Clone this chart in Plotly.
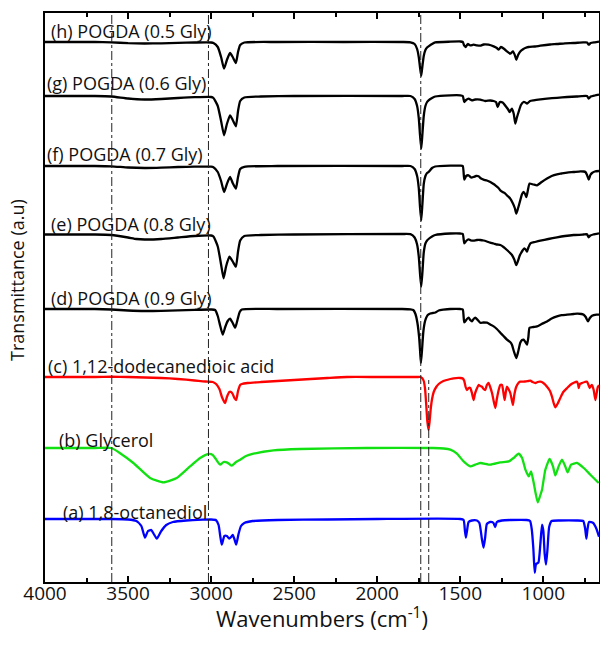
import plotly.graph_objects as go

# ---------------- data ----------------
# wavenumber (cm-1), relative transmittance (a.u., 0 = local baseline)
spec_h = [(4000,0),(3700,0),(3600,-0.3),(3500,-1.2),(3400,-1.5),(3300,-1.3),(3200,-0.8),(3100,-0.5),(3000,-0.5),
          (2986,-1),(2960,-5),(2940,-15),(2922,-26.7),(2905,-18),(2886,-11),(2870,-15),(2851,-21),(2838,-10),(2825,-3),
          (2800,-0.5),(2600,0),(2200,0),(1850,0),(1800,-0.3),(1775,-2),(1760,-7),(1750,-15),(1742,-26),(1735,-33.7),
          (1728,-24),(1720,-14),(1710,-8),(1700,-5.5),(1691,-4.4),(1670,-2),(1651,-0.4),(1560,0.3),(1500,0.5),(1485,0),
          (1476,-3.7),(1468,-5),(1455,-2),(1440,-3.4),(1420,-2.7),(1400,-3.4),(1380,-3.7),(1360,-2.5),(1330,-2.7),
          (1299,-4.4),(1280,-6),(1269,-7.7),(1255,-5),(1235,-7),(1219,-9.4),(1199,-11.7),(1183,-9.4),(1172,-13),
          (1163,-17.7),(1152,-13),(1139,-9.4),(1120,-7),(1109,-6),(1089,-5),(1050,-4.5),(1018,-3.7),(960,-2.5),
          (918,-2),(870,-1.3),(817,-1),(760,-0.4),(737,-0.4),(727,-2.7),(715,-1),(690,-0.3),(665,0.3)]

spec_g = [(4000,0),(3700,0),(3600,-0.5),(3500,-2.5),(3400,-3.5),(3300,-3),(3200,-2),(3100,-1.2),(3000,-1),
          (2986,-2),(2960,-10),(2940,-25),(2922,-39.3),(2905,-28),(2886,-19.3),(2870,-24),(2851,-30.3),(2838,-15),
          (2825,-5),(2800,-1.5),(2700,-0.5),(2500,0),(1850,0),(1800,0),(1775,-3),(1760,-10),(1750,-22),(1742,-40),
          (1735,-52.6),(1728,-38),(1720,-20),(1710,-10),(1700,-6),(1691,-4.3),(1670,-2),(1651,-0.5),(1560,0.7),
          (1500,0.7),(1485,0),(1476,-6),(1465,-4),(1450,-2.6),(1430,-4.3),(1410,-3.5),(1380,-3.6),(1350,-5),
          (1320,-4.5),(1299,-5),(1285,-6),(1275,-11),(1262,-6),(1245,-6.5),(1223,-11),(1210,-14),(1203,-16),
          (1189,-12.6),(1178,-18),(1169,-27.6),(1160,-22),(1149,-16),(1135,-9),(1119,-6),(1108,-6.5),(1098,-7.6),
          (1080,-5),(1058,-4.3),(1018,-3.4),(978,-2.6),(918,-1.8),(857,-1),(800,-0.5),(737,0),(727,-2.6),
          (715,-0.6),(690,0.5),(665,1.4)]

spec_f = [(4000,0),(3700,0),(3600,-0.3),(3500,-1.5),(3400,-2),(3300,-1.7),(3200,-1),(3100,-0.7),(3000,-0.7),
          (2986,-1.2),(2960,-6),(2940,-15),(2922,-26),(2905,-18),(2886,-11),(2870,-17),(2851,-22.6),(2838,-11),
          (2825,-3),(2800,-0.8),(2600,0),(1850,0),(1800,0),(1775,-3),(1760,-10),(1750,-22),(1742,-42),(1735,-54.3),
          (1728,-38),(1720,-18),(1710,-10),(1700,-7),(1691,-6),(1670,-2),(1651,-0.5),(1560,0.3),(1500,0.3),(1485,0),
          (1476,-13.6),(1465,-10),(1450,-9.3),(1435,-11.5),(1420,-11),(1405,-10),(1390,-10.3),(1375,-12.5),
          (1360,-13.6),(1340,-14.5),(1319,-16),(1300,-18),(1289,-19.3),(1270,-22),(1259,-24.3),(1245,-26),
          (1229,-27.6),(1215,-30),(1199,-32.6),(1183,-37.6),(1172,-42),(1163,-47.6),(1152,-42),(1139,-34.3),
          (1128,-28),(1119,-26),(1110,-28),(1102,-31),(1094,-25),(1083,-17.6),(1060,-18.5),(1038,-19.3),
          (1010,-16),(978,-12.6),(950,-10),(918,-8.3),(890,-7.5),(857,-6.6),(817,-6),(777,-5.3),(757,-5.5),
          (747,-6),(737,-9),(727,-13.6),(717,-9),(707,-7),(690,-5.5),(665,-5)]

spec_e = [(4000,0),(3700,0),(3600,-0.5),(3500,-3),(3450,-4.5),(3400,-5),(3300,-4.5),(3200,-3),(3100,-1.5),
          (3000,-1),(2986,-2),(2960,-12),(2940,-30),(2925,-43.8),(2910,-32),(2890,-22.2),(2870,-27),(2851,-32.2),
          (2838,-17),(2825,-6),(2800,-1.5),(2700,-0.5),(2500,0),(1850,0.5),(1800,0.3),(1775,-3),(1760,-10),
          (1750,-22),(1742,-40),(1735,-52.2),(1728,-38),(1720,-18),(1710,-9),(1700,-6),(1691,-4.5),(1670,-2),
          (1651,-0.5),(1560,1),(1500,1),(1485,0.5),(1476,-8.8),(1465,-6.5),(1450,-4.8),(1435,-6),(1420,-6.2),
          (1400,-5.5),(1380,-5.5),(1360,-6),(1340,-7),(1320,-8.2),(1300,-9),(1280,-10),(1259,-10.5),(1240,-12.5),
          (1219,-15.5),(1200,-18.5),(1189,-20.5),(1175,-25),(1163,-30.5),(1152,-26),(1142,-21),(1135,-18.8),
          (1125,-16),(1115,-13.8),(1106,-15),(1098,-17.2),(1090,-13),(1078,-8.8),(1050,-7.5),(1018,-6.2),
          (970,-4.5),(918,-2.8),(870,-1.5),(817,-0.5),(760,0),(737,0.2),(727,-2.8),(717,-1),(700,0),(665,1.2)]

spec_d = [(4000,0),(3700,0),(3600,-0.5),(3500,-1.5),(3400,-2),(3300,-1.8),(3200,-1.3),(3100,-0.8),(3000,-0.5),
          (2976,-1),(2960,-7),(2945,-17),(2930,-25.7),(2915,-18),(2900,-12),(2886,-9.7),(2870,-14),(2855,-18.7),
          (2840,-10),(2828,-3),(2815,-0.5),(2600,0),(1850,0),(1800,-0.3),(1783,-1),(1770,-5),(1758,-14),
          (1748,-28),(1742,-42),(1737,-54),(1730,-40),(1722,-22),(1712,-12),(1700,-7),(1693,-5.7),(1680,-4.5),
          (1665,-4),(1650,-3.5),(1630,-1.5),(1602,-0.7),(1560,0),(1500,0),(1485,-0.5),(1476,-13.4),(1460,-10),
          (1450,-8.7),(1440,-11),(1430,-12.4),(1420,-10),(1410,-8.7),(1395,-11),(1380,-13.7),(1360,-13.5),
          (1339,-13.7),(1320,-15.5),(1299,-17.4),(1280,-20),(1259,-23.7),(1240,-27),(1219,-30.7),(1200,-33),
          (1189,-35.7),(1178,-42),(1163,-49),(1152,-43),(1139,-33.7),(1128,-31),(1119,-30.7),(1108,-33),
          (1098,-35.7),(1090,-28),(1083,-18.7),(1060,-18),(1038,-17.4),(1010,-15),(978,-12.4),(950,-9.5),
          (918,-7.4),(890,-6.2),(857,-5.7),(817,-5),(797,-4.7),(770,-5),(757,-5.7),(745,-8),(731,-12.4),
          (720,-9),(707,-6.7),(680,-5.7),(665,-5.7)]

spec_c = [(4000,0),(3800,0),(3700,0),(3600,0.3),(3500,0),(3400,-0.5),(3300,-1),(3200,-2),(3100,-3.5),(3050,-4.3),
          (3018,-4.7),(2990,-5),(2970,-7),(2950,-12),(2935,-20),(2916,-26),(2905,-20),(2890,-15),(2880,-15),
          (2870,-17),(2860,-21),(2849,-23),(2838,-14),(2825,-8),(2815,-7),(2780,-6),(2700,-5),(2600,-4),(2500,-3),
          (2400,-2),(2300,-1),(2183,0),(2000,0),(1850,0),(1760,0),(1740,0),(1730,-1),(1720,-4),(1712,-12),
          (1705,-28),(1698,-45),(1691,-53),(1685,-45),(1678,-32),(1670,-22),(1660,-15),(1645,-10),(1630,-7),
          (1602,-4),(1560,-2),(1540,-1.3),(1500,-1),(1485,-1.5),(1476,-4),(1468,-10),(1460,-13),(1450,-11),
          (1440,-11),(1430,-16),(1420,-23),(1412,-17),(1404,-13),(1390,-8),(1380,-9),(1370,-9.7),(1360,-12),
          (1350,-13),(1340,-8),(1330,-6),(1320,-10),(1309,-16),(1299,-24),(1289,-31),(1280,-22),(1269,-13),
          (1259,-8),(1249,-8),(1240,-16),(1233,-23),(1226,-15),(1219,-9.7),(1210,-12),(1199,-16),(1190,-23),
          (1183,-28),(1175,-18),(1163,-9.7),(1150,-6),(1139,-4.7),(1110,-4.5),(1090,-4),(1078,-3.7),(1065,-5),
          (1048,-6),(1035,-5),(1018,-4.7),(1000,-6),(978,-9.7),(960,-14),(948,-19.7),(938,-26),(928,-30.3),
          (915,-27),(898,-21),(880,-15),(857,-11),(835,-7.5),(817,-5.7),(797,-4.7),(790,-8),(787,-11),(780,-7),
          (767,-6),(750,-5),(737,-4.7),(728,-8),(721,-11),(714,-9),(707,-8),(697,-13),(687,-23),(680,-17),
          (672,-10),(665,-8)]

spec_b = [(4000,0),(3700,0),(3600,0),(3550,-5),(3468,-15),(3367,-30),(3287,-34.4),(3207,-30),(3127,-18.4),
          (3066,-10),(3016,-6),(2990,-7),(2976,-10),(2960,-14),(2946,-16.7),(2925,-14),(2906,-14.4),(2890,-16),
          (2876,-17.7),(2850,-14),(2825,-11.7),(2790,-8),(2745,-5.7),(2625,-2.4),(2464,-1),(2062,0),(1663,0),
          (1600,-0.5),(1560,-1.7),(1520,-5.7),(1480,-13.4),(1440,-18.4),(1410,-16.7),(1380,-15),(1319,-16.7),
          (1259,-14.4),(1209,-13.4),(1179,-10),(1149,-5.7),(1128,-10),(1108,-21.7),(1088,-28.4),(1074,-23.4),
          (1058,-35),(1034,-54.4),(1020,-48),(1008,-41.7),(988,-21.7),(962,-11),(942,-18.4),(928,-27.4),
          (908,-18.4),(888,-11.7),(868,-18.4),(854,-24.4),(833,-16.7),(797,-15),(757,-20),(717,-26.7),(667,-35)]

spec_a = [(4000,0),(3600,0),(3500,-0.5),(3450,-2),(3420,-7),(3398,-18.7),(3380,-12),(3360,-11),(3345,-15),
          (3327,-19.7),(3300,-12),(3270,-6),(3230,-3),(3150,-1.5),(3050,-0.7),(3000,-0.5),(2970,-1.2),(2955,-6),
          (2945,-17),(2936,-25.7),(2920,-17),(2905,-17),(2891,-19.7),(2880,-18),(2870,-16),(2860,-20),(2849,-25.7),
          (2835,-15),(2820,-7),(2800,-4),(2750,-2),(2600,-1),(2300,-0.5),(2000,0),(1500,0),(1480,-1),(1472,-12),
          (1466,-18.7),(1458,-10),(1450,-3),(1430,-1.5),(1400,-1.5),(1385,-4),(1370,-20),(1360,-28.7),(1350,-18),
          (1340,-5),(1320,-3),(1300,-4),(1290,-8),(1280,-3),(1250,-1.5),(1200,-1),(1100,-1),(1080,-2),(1070,-10),
          (1060,-30),(1052,-53.7),(1044,-45),(1030,-43.7),(1018,-25),(1008,-5.7),(1000,-12),(992,-35),(984,-45.7),
          (975,-30),(965,-8),(950,-2),(900,-1.5),(800,-1.5),(760,-2),(748,-10),(741,-19.7),(734,-10),(725,-3),
          (700,-4),(680,-10),(665,-17.7)]

names = ["(h) POGDA (0.5 Gly)", "(g) POGDA (0.6 Gly)", "(f) POGDA (0.7 Gly)", "(e) POGDA (0.8 Gly)",
         "(d) POGDA (0.9 Gly)", "(c) 1,12-dodecanedioic acid", "(b) Glycerol", "(a) 1,8-octanediol"]
spectra = [spec_h, spec_g, spec_f, spec_e, spec_d, spec_c, spec_b, spec_a]
offsets = [540, 486, 416, 347.5, 273, 205, 134, 63]          # vertical stacking offsets (a.u.)
colors = ["#000000"] * 5 + ["#ff0000", "#11e011", "#0000ff"]
label_x = [3976, 4000, 4000, 3976, 3976, 3994, 3928, 3904]    # where each label starts (cm-1)
label_dy = [11, 13, 12, 10.5, 11, 11, 8, 7]                   # label height above its baseline (a.u.)

ref_lines = [3598, 3016, 1738]   # dash-dot guides across the whole plot
ref_line_short = 1690            # dash-dot guide from trace (c) down
ref_line_short_top = 202

x_range = [4000, 665]
y_range = [0, 569]
x_ticks = [4000, 3500, 3000, 2500, 2000, 1500, 1000]

FONT = "Open Sans"
PLOT_L, PLOT_R, PLOT_T, PLOT_B = 45, 599, 13, 582   # plot-area edges in pixels
PW, PH = PLOT_R - PLOT_L, PLOT_B - PLOT_T

fig = go.Figure()
for nm, sp, off, col in zip(names, spectra, offsets, colors):
    xs = [p[0] for p in sp]
    ys = [p[1] + off for p in sp]
    fig.add_trace(go.Scatter(x=xs, y=ys, mode="lines", name=nm,
                             line=dict(color=col, width=2.3, shape="spline", smoothing=0.5),
                             showlegend=False, hoverinfo="skip"))

for nm, off, lx, dy in zip(names, offsets, label_x, label_dy):
    fig.add_annotation(x=lx, y=off + dy, xref="x", yref="y", text=nm, showarrow=False,
                       xanchor="left", yanchor="middle", font=dict(family=FONT, size=18, color="#111"))

for xv in ref_lines:
    fig.add_shape(type="line", x0=xv, x1=xv, y0=0, y1=1, xref="x", yref="paper",
                  line=dict(color="#222", width=1, dash="dashdot"))
fig.add_shape(type="line", x0=ref_line_short, x1=ref_line_short, y0=0, y1=ref_line_short_top,
              xref="x", yref="y", line=dict(color="#222", width=1, dash="dashdot"))

# axis titles as annotations (fixed placement)
fig.add_annotation(x=(17 - PLOT_L) / PW, y=(PLOT_B - 280) / PH, xref="paper", yref="paper",
                   text="Transmittance (a.u)", showarrow=False, textangle=-90,
                   font=dict(family=FONT, size=18, color="#111"), xanchor="center", yanchor="middle")
fig.add_annotation(x=(322 - PLOT_L) / PW, y=(PLOT_B - 600) / PH, xref="paper", yref="paper",
                   text="Wavenumbers (cm<sup>-1</sup>)", showarrow=False,
                   font=dict(family=FONT, size=22, color="#111"), xanchor="center", yanchor="top")

fig.update_layout(
    width=600, height=645,
    margin=dict(l=PLOT_L, r=600 - PLOT_R, t=PLOT_T, b=645 - PLOT_B, autoexpand=False),
    paper_bgcolor="white", plot_bgcolor="white",
    xaxis=dict(range=x_range, tickvals=x_ticks, ticks="inside", ticklen=6, tickwidth=1.5, tickcolor="#000",
               showline=True, linecolor="#000", linewidth=1.5, mirror="ticks", showgrid=False, zeroline=False,
               automargin=False, tickfont=dict(family=FONT, size=19, color="#111"), ticklabelstandoff=-7,
               minor=dict(dtick=250, tick0=0, ticks="inside", ticklen=4, tickwidth=1.5, tickcolor="#000", showgrid=False)),
    yaxis=dict(range=y_range, showticklabels=False, ticks="", showline=True, linecolor="#000", linewidth=1.5,
               mirror=True, showgrid=False, zeroline=False, automargin=False),
)

fig.write_html("out.html", config={"displayModeBar": False},
               post_script="document.body.style.margin='0px';")
